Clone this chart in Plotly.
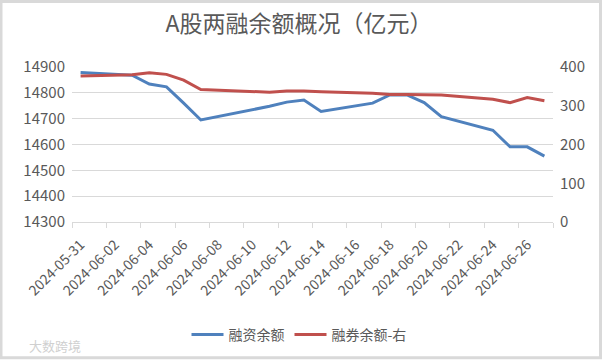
import plotly.graph_objects as go

dates = ["2024-05-31", "2024-06-03", "2024-06-04", "2024-06-05", "2024-06-06", "2024-06-07",
         "2024-06-11", "2024-06-12", "2024-06-13", "2024-06-14", "2024-06-17", "2024-06-18",
         "2024-06-19", "2024-06-20", "2024-06-21", "2024-06-24", "2024-06-25", "2024-06-26",
         "2024-06-27"]
margin_finance = [14879, 14868, 14834, 14823, 14760, 14695, 14748, 14764, 14772, 14728,
                  14760, 14792, 14792, 14762, 14708, 14655, 14591, 14591, 14555]
short_selling = [377, 380, 385, 381, 366, 342, 335, 338, 338, 336,
                 332, 329, 329, 328, 328, 317, 308, 321, 313]
left_ticks = [14300, 14400, 14500, 14600, 14700, 14800, 14900]
right_ticks = [0, 100, 200, 300, 400]

FONT = "Noto Sans CJK SC"
GREY = "#595959"
W, H = 602, 362
L, R, T, B = 72, 49, 67, 139
PW, PH = W - L - R, H - T - B


def px(x):
    return (x - L) / PW


def py(y):
    return (H - B - y) / PH


fig = go.Figure()
fig.add_trace(go.Scatter(x=dates, y=margin_finance, name="融资余额", mode="lines",
                         line=dict(color="#4F81BD", width=3)))
fig.add_trace(go.Scatter(x=dates, y=short_selling, name="融券余额-右", mode="lines",
                         line=dict(color="#C0504D", width=3), yaxis="y2"))

fig.update_layout(
    width=W, height=H,
    margin=dict(l=L, r=R, t=T, b=B),
    paper_bgcolor="white", plot_bgcolor="white",
    font=dict(family=FONT, color=GREY, size=14),
    showlegend=True,
    legend=dict(orientation="h", x=px(299), xanchor="center",
                y=py(335), yanchor="middle", font=dict(size=14, color=GREY),
                itemwidth=32, tracegroupgap=0),
    xaxis=dict(type="date", range=["2024-05-30 12:00", "2024-06-27 12:00"],
               tick0="2024-05-31", dtick=2 * 86400000, tickformat="%Y-%m-%d",
               tickangle=-45, ticks="", showgrid=False, showline=True,
               linecolor="#d9d9d9", linewidth=1, zeroline=False,
               ticklabelstandoff=8,
               tickfont=dict(size=14, color=GREY),
               minor=dict(tick0="2024-05-30 12:00", dtick=2 * 86400000, ticks="outside",
                          ticklen=5, tickcolor="#d9d9d9", showgrid=False)),
    yaxis=dict(range=[14300, 14900], tickvals=left_ticks, tickformat="d", showgrid=True,
               gridcolor="#d9d9d9", gridwidth=1, zeroline=False, showline=False,
               ticks="", ticklabelstandoff=6, tickfont=dict(size=15, color=GREY)),
    yaxis2=dict(range=[0, 400], tickvals=right_ticks, tickformat="d", overlaying="y",
                side="right", showgrid=False, zeroline=False, showline=False, ticks="",
                ticklabelstandoff=6, tickfont=dict(size=15, color=GREY)),
    title=dict(text="A股两融余额概况（亿元）", x=299 / W, xref="container", xanchor="center",
               y=1 - 24 / H, yanchor="middle",
               font=dict(size=23, color=GREY, family=FONT)),
)

fig.add_shape(type="rect", xref="paper", yref="paper",
              x0=px(1), x1=px(W - 1.5), y0=py(H - 2.5), y1=py(1),
              line=dict(color="#d9d9d9", width=3), layer="above")
fig.add_annotation(text="大数跨境", xref="paper", yref="paper", x=px(27), y=py(347),
                   xanchor="left", yanchor="middle", showarrow=False,
                   font=dict(size=13, color="#d0d0d0", family=FONT))

fig.write_html("out.html", config={"displayModeBar": False},
               post_script="document.body.style.margin='0';document.body.style.overflow='hidden';")
